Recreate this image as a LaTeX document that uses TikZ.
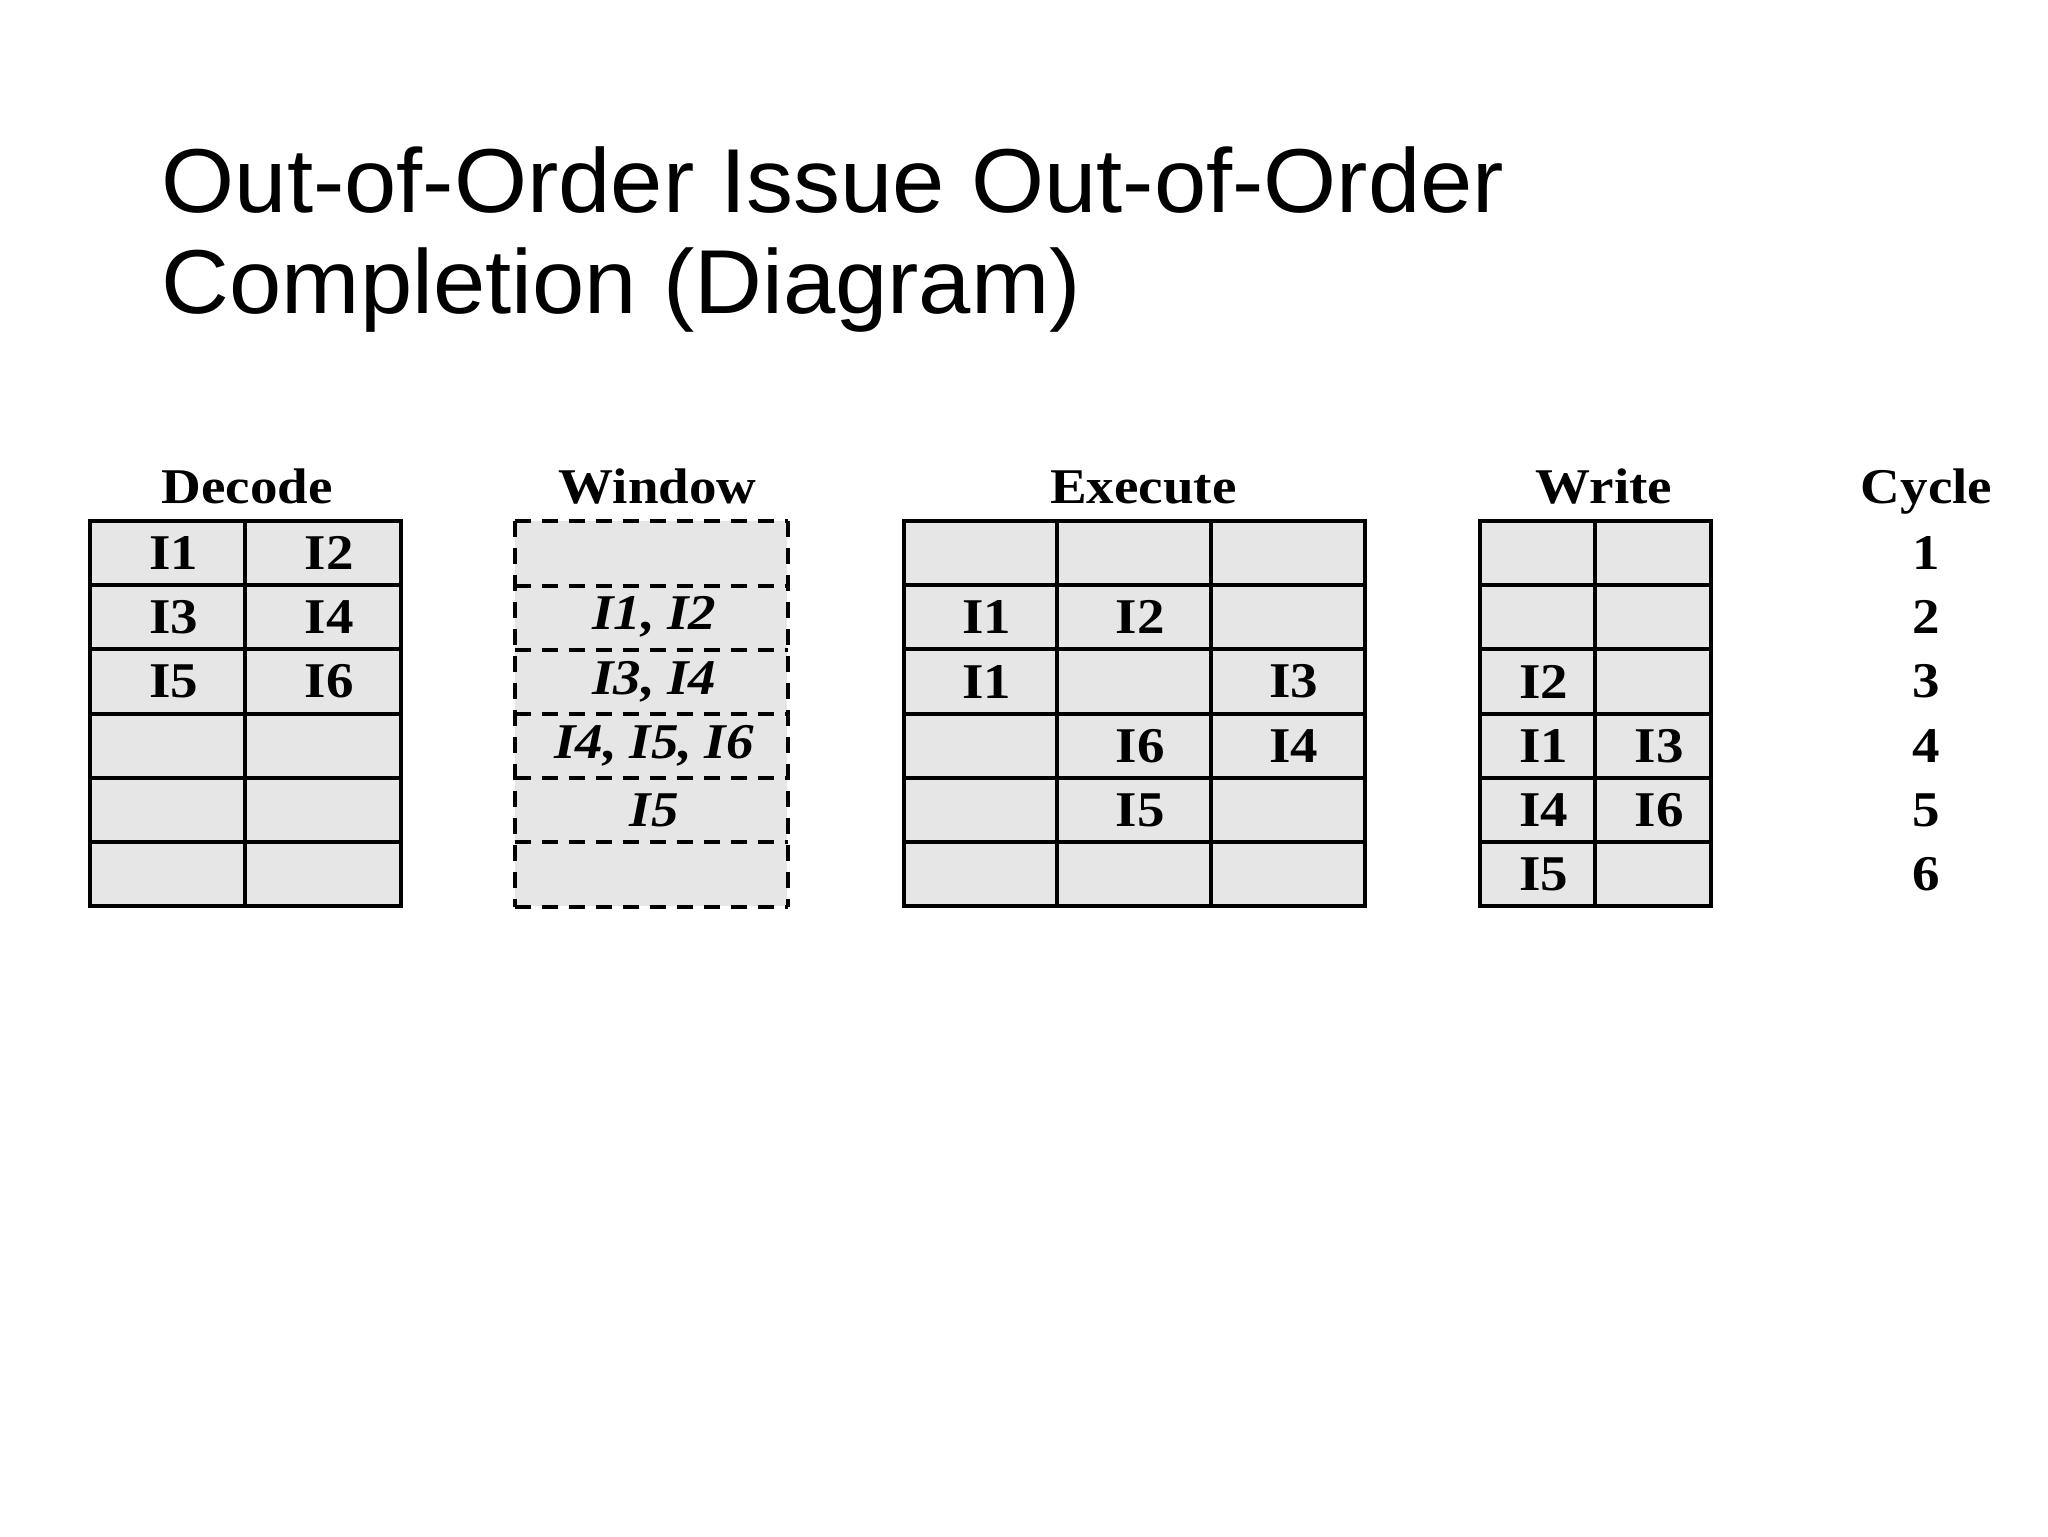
\documentclass[tikz,border=0pt]{standalone}
\usepackage{fontspec}
\newfontfamily\titlefont[FakeStretch=1.035]{Liberation Sans}
\newfontfamily\tabfont[FakeStretch=1.1]{Liberation Serif}
\definecolor{cellgray}{HTML}{E6E6E6}
\newcommand{\cellsh}[1]{\kern6pt #1}
\begin{document}
\begin{tikzpicture}[x=1pt,y=-1pt,
  tabtext/.style={font=\tabfont\bfseries\fontsize{25}{25}\selectfont},
  cell/.style={tabtext, draw=black, line width=2pt, fill=cellgray, minimum height=32.1pt, inner sep=0pt},
  wcell/.style={tabtext, fill=cellgray, minimum width=136.25pt, minimum height=32.1pt, inner sep=0pt, font=\tabfont\bfseries\itshape\fontsize{25}{25}\selectfont},
  wline/.style={draw=black, line width=2pt, dash pattern=on 8pt off 5.5pt},
  head/.style={tabtext, anchor=base, inner sep=0pt},
  titletext/.style={font=\titlefont\fontsize{45.4}{50.5}\selectfont, anchor=base west, inner sep=0pt}
]
\useasboundingbox (0,0) rectangle (1024,768);

% title
\node[titletext] (title1) at (80.7,106) {Out-of-Order Issue Out-of-Order};
\node[titletext] (title2) at (80.7,156.5) {Completion (Diagram)};

% headings
\node[head] (hdec) at (123.6,251.5) {Decode};
\node[head] (hwin) at (328.9,251.5) {Window};
\node[head] (hexe) at (571.7,251.5) {Execute};
\node[head] (hwri) at (802,251.5) {Write};
\node[head] (hcyc) at (963.3,251.5) {Cycle};

% Decode
\foreach \r/\a/\b in {1/I1/I2, 2/I3/I4, 3/I5/I6, 4//, 5//, 6//} {
  \node[cell, minimum width=77.7pt] (dec-\r-1) at (83.85, 244.45+32.1*\r) {\cellsh{\a}};
  \node[cell, minimum width=77.7pt] (dec-\r-2) at (161.55, 244.45+32.1*\r) {\cellsh{\b}};
}

% Window
\node[wcell] (win-1) at (325.6, 276.55) {};
\node[wcell] (win-2) at (325.6, 308.65) {\kern3pt I1,\hspace{0.25em}I2};
\node[wcell] (win-3) at (325.6, 340.75) {\kern3pt I3,\hspace{0.25em}I4};
\node[wcell] (win-4) at (325.6, 372.85) {\kern3pt I4,\hspace{0.25em}I5,\hspace{0.25em}I6};
\node[wcell] (win-5) at (325.6, 404.95) {\kern3pt I5};
\node[wcell] (win-6) at (325.6, 437.05) {};
\draw[wline] (win-1.north west) -- (win-1.north east);
\foreach \r in {1,...,6} {
  \draw[wline] (win-\r.south west) -- (win-\r.south east);
}
\draw[wline] (win-1.north west) -- (win-6.south west);
\draw[wline] (win-1.north east) -- (win-6.south east);

% Execute
\foreach \r/\a/\b/\c in {1///, 2/I1/I2/, 3/I1//I3, 4//I6/I4, 5//I5/, 6///} {
  \node[cell, minimum width=76.85pt] (exe-\r-1) at (490.3, 244.45+32.1*\r) {\cellsh{\a}};
  \node[cell, minimum width=76.85pt] (exe-\r-2) at (567.15, 244.45+32.1*\r) {\cellsh{\b}};
  \node[cell, minimum width=76.85pt] (exe-\r-3) at (644.0, 244.45+32.1*\r) {\cellsh{\c}};
}

% Write
\foreach \r/\a/\b in {1//, 2//, 3/I2/, 4/I1/I3, 5/I4/I6, 6/I5/} {
  \node[cell, minimum width=57.8pt] (wri-\r-1) at (768.75, 244.45+32.1*\r) {\cellsh{\a}};
  \node[cell, minimum width=57.8pt] (wri-\r-2) at (826.55, 244.45+32.1*\r) {\cellsh{\b}};
}

% Cycle
\foreach \r in {1,...,6} {
  \node[tabtext, inner sep=0pt] (cyc-\r) at (963, 244.45+32.1*\r) {\r};
}
\end{tikzpicture}
\end{document}
